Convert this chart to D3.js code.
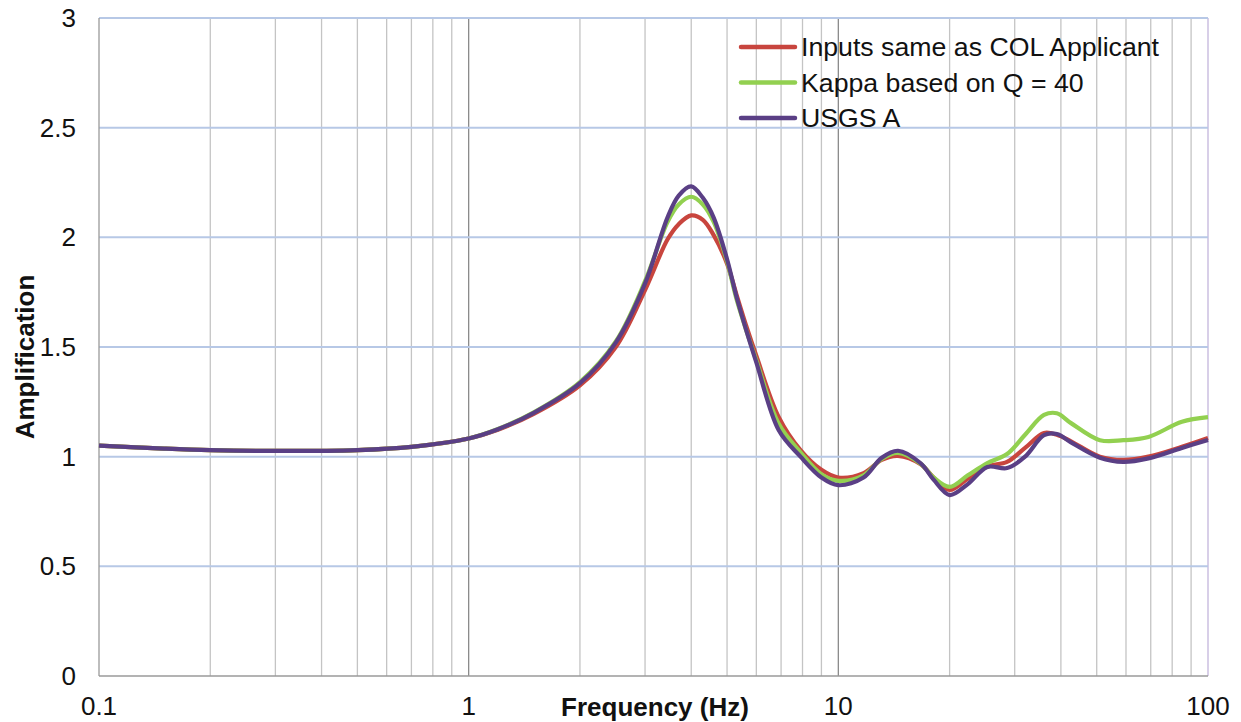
<!DOCTYPE html>
<html>
<head>
<meta charset="utf-8">
<script src="https://cdn.jsdelivr.net/npm/d3@7"></script>
<style>
  html, body { margin: 0; padding: 0; background: #fff; }
  svg { display: block; font-family: "Liberation Sans", Arial, sans-serif; }
</style>
</head>
<body>
<svg id="chart" width="1241" height="722"></svg>
<script>
// Frequency grid (Hz) shared by all three amplification curves
const frequencies = [0.1, 0.15, 0.2, 0.3, 0.5, 0.7, 1, 1.2, 1.5, 2, 2.5, 3, 3.45, 3.7, 4, 4.3, 4.6, 5, 5.3, 5.65, 6,
  6.9, 7.9, 9, 10, 11.7, 13.1, 14.5, 16.7, 18.1, 20, 22.4, 25.3, 28.6, 32, 36, 39, 42.6, 51, 59, 69, 85, 100];

const inputsSameAsCOL = [1.05, 1.037, 1.03, 1.026, 1.03, 1.045, 1.083, 1.123, 1.195, 1.325, 1.50, 1.76, 1.99, 2.06, 2.10, 2.08, 2.01, 1.88, 1.74, 1.59, 1.46,
  1.18, 1.03, 0.94, 0.905, 0.925, 0.985, 1.003, 0.965, 0.905, 0.848, 0.90, 0.955, 0.976, 1.04, 1.108, 1.10, 1.07, 1.0, 0.985, 1.0, 1.045, 1.085];

const kappaQ40 = [1.05, 1.037, 1.03, 1.026, 1.03, 1.045, 1.083, 1.126, 1.202, 1.34, 1.525, 1.80, 2.07, 2.15, 2.185, 2.15, 2.07, 1.89, 1.72, 1.57, 1.44,
  1.15, 1.02, 0.92, 0.89, 0.915, 0.99, 1.017, 0.968, 0.905, 0.862, 0.915, 0.971, 1.012, 1.10, 1.19, 1.198, 1.153, 1.075, 1.075, 1.09, 1.159, 1.18];

const usgsA = [1.05, 1.037, 1.03, 1.026, 1.03, 1.045, 1.083, 1.125, 1.2, 1.335, 1.52, 1.79, 2.09, 2.19, 2.232, 2.18, 2.09, 1.90, 1.73, 1.57, 1.43,
  1.12, 1.0, 0.905, 0.87, 0.905, 0.995, 1.027, 0.97, 0.895, 0.825, 0.875, 0.953, 0.948, 1.0, 1.098, 1.103, 1.065, 0.995, 0.976, 0.992, 1.04, 1.076];

const seriesNames = ["Inputs same as COL Applicant", "Kappa based on Q = 40", "USGS A"];
const seriesColors = ["#c8453e", "#92d050", "#5a3f85"];
const seriesValues = [inputsSameAsCOL, kappaQ40, usgsA];

const xTicks = [0.1, 1, 10, 100];
const yTicks = [0, 0.5, 1, 1.5, 2, 2.5, 3];

const svg = d3.select("#chart");
const margin = { left: 99, right: 1208, top: 18, bottom: 676 };

const x = d3.scaleLog().domain([0.1, 100]).range([margin.left, margin.right]);
const y = d3.scaleLinear().domain([0, 3]).range([margin.bottom, margin.top]);

// Minor vertical grid lines (2..9 within each decade)
const minor = [];
[0.1, 1, 10].forEach(d => { for (let k = 2; k <= 9; k++) minor.push(d * k); });
svg.append("g").selectAll("line").data(minor).join("line")
  .attr("x1", d => x(d)).attr("x2", d => x(d))
  .attr("y1", y(3)).attr("y2", y(0))
  .attr("stroke", "#c4c4c4").attr("stroke-width", 1.3);

// Decade lines
svg.append("g").selectAll("line").data([1, 10]).join("line")
  .attr("x1", d => x(d)).attr("x2", d => x(d))
  .attr("y1", y(3)).attr("y2", y(0))
  .attr("stroke", "#8a8a8a").attr("stroke-width", 1.3);
svg.append("line")
  .attr("x1", x(100)).attr("x2", x(100)).attr("y1", y(3)).attr("y2", y(0))
  .attr("stroke", "#cbbfe0").attr("stroke-width", 1.5);

// Horizontal grid lines
svg.append("g").selectAll("line").data(yTicks.filter(d => d > 0)).join("line")
  .attr("x1", x(0.1)).attr("x2", x(100))
  .attr("y1", d => y(d)).attr("y2", d => y(d))
  .attr("stroke", "#b7c8e6").attr("stroke-width", 2);

// Axes lines
svg.append("line").attr("x1", x(0.1)).attr("x2", x(0.1)).attr("y1", y(3)).attr("y2", y(0))
  .attr("stroke", "#9a9a9a").attr("stroke-width", 1.3);
svg.append("line").attr("x1", x(0.1)).attr("x2", x(100)).attr("y1", y(0)).attr("y2", y(0))
  .attr("stroke", "#9a9a9a").attr("stroke-width", 1.3);

// Y tick labels
svg.append("g").selectAll("text").data(yTicks).join("text")
  .attr("x", 76).attr("y", d => y(d) + 9)
  .attr("text-anchor", "end").attr("font-size", 26).attr("fill", "#111")
  .text(d => d);

// X tick labels
svg.append("g").selectAll("text").data(xTicks).join("text")
  .attr("x", d => x(d)).attr("y", 715)
  .attr("text-anchor", "middle").attr("font-size", 26).attr("fill", "#111")
  .text(d => d);

// Axis titles
svg.append("text").attr("x", 655).attr("y", 716)
  .attr("text-anchor", "middle").attr("font-size", 26).attr("font-weight", "bold").attr("fill", "#111")
  .text("Frequency (Hz)");
svg.append("text").attr("transform", "translate(34,357) rotate(-90)")
  .attr("text-anchor", "middle").attr("font-size", 26).attr("font-weight", "bold").attr("fill", "#111")
  .text("Amplification");

// Curves
const line = d3.line()
  .x(d => x(d[0])).y(d => y(d[1]))
  .curve(d3.curveCatmullRom.alpha(0.5));

seriesValues.forEach((vals, i) => {
  svg.append("path")
    .datum(frequencies.map((f, j) => [f, vals[j]]))
    .attr("fill", "none")
    .attr("stroke", seriesColors[i])
    .attr("stroke-width", 4.2)
    .attr("stroke-linejoin", "round")
    .attr("d", line);
});

// Legend
const legend = svg.append("g");
seriesNames.forEach((name, i) => {
  const ly = 47 + i * 35.5;
  legend.append("line")
    .attr("x1", 741).attr("x2", 795).attr("y1", ly).attr("y2", ly)
    .attr("stroke", seriesColors[i]).attr("stroke-width", 4.5).attr("stroke-linecap", "round");
  legend.append("text")
    .attr("x", 801).attr("y", ly + 9)
    .attr("font-size", 26.7).attr("fill", "#111")
    .text(name);
});
</script>
</body>
</html>
